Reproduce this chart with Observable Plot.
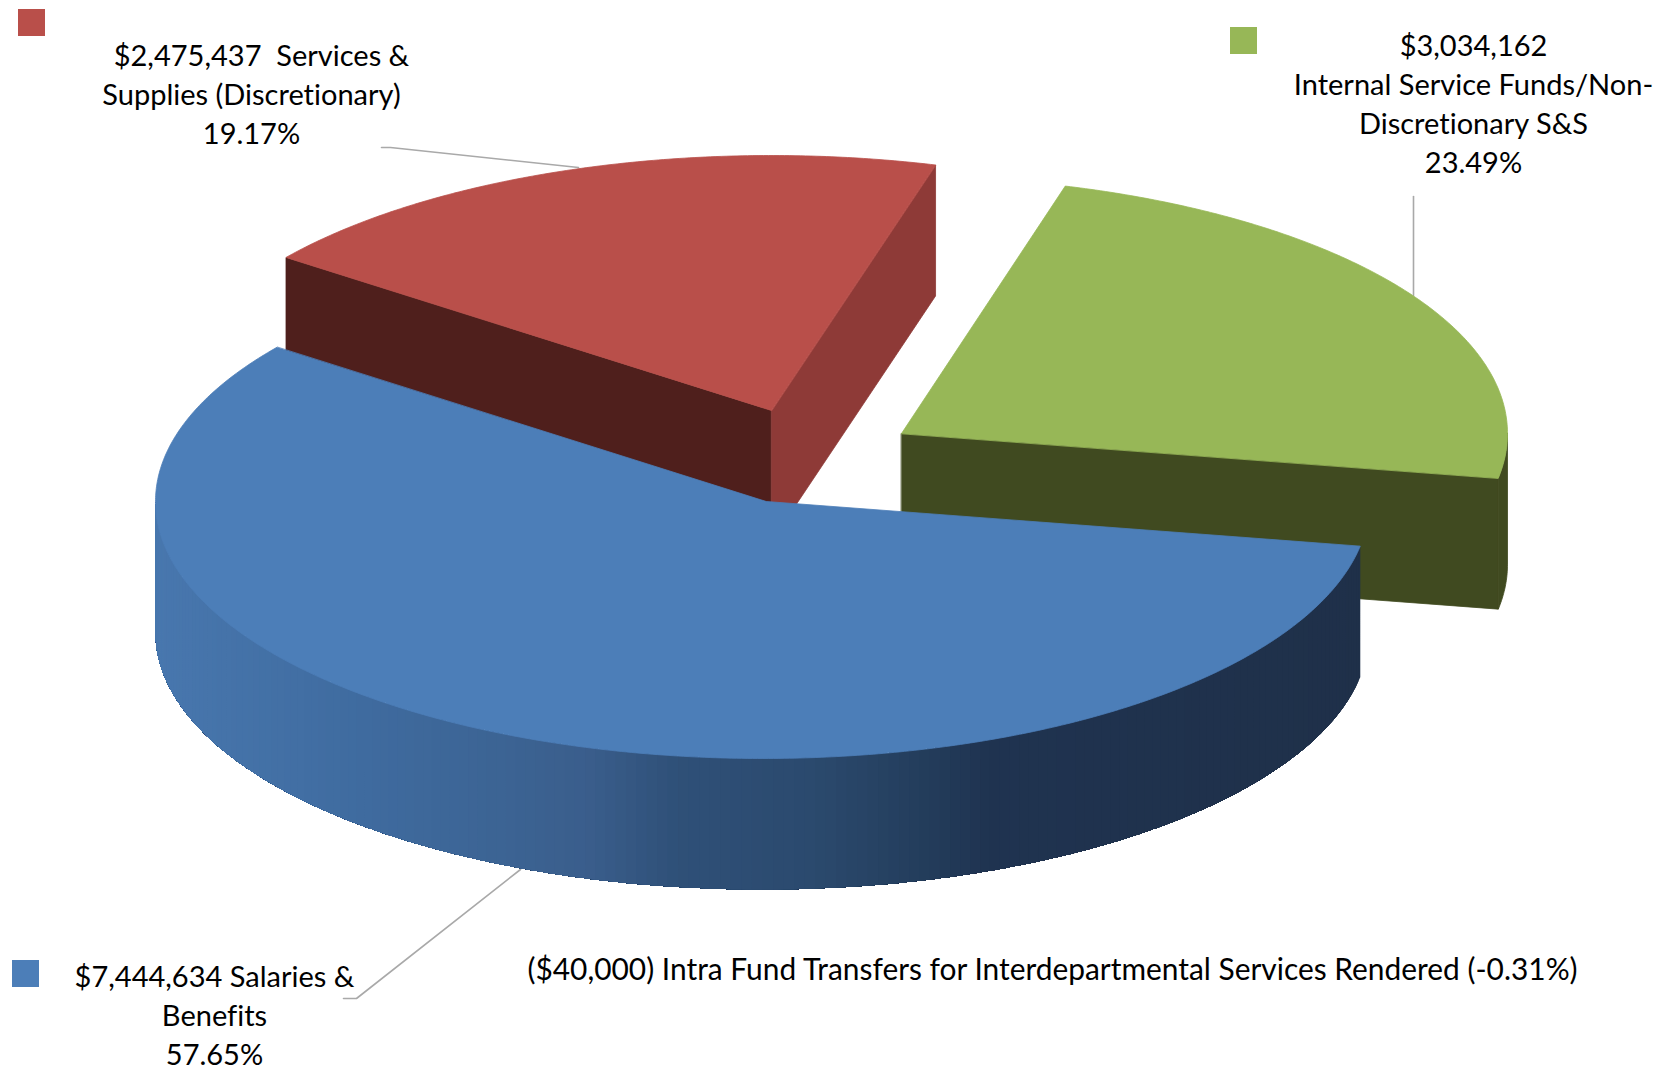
<!DOCTYPE html>
<html>
<head>
<meta charset="utf-8">
<script src="https://cdn.jsdelivr.net/npm/d3@7"></script>
<script src="https://cdn.jsdelivr.net/npm/@observablehq/plot@0.6"></script>
<style>
  html, body { margin: 0; padding: 0; background: #fff; }
  svg { display: block; }
  svg text { font-variant-ligatures: none; }
</style>
</head>
<body>
<div id="chart"></div>
<script>
// Budget amounts
const categories = ["Salaries & Benefits", "Services & Supplies (Discretionary)", "Internal Service Funds/Non-Discretionary S&S"];
const amounts = [7444634, 2475437, 3034162];
const topColors = ["#4c7eb8", "#b94f4a", "#97b757"];

// Label blocks, one string per line; offsets nudge individual lines sideways
const labelLines = [
  {lines: ["$7,444,634 Salaries &", "Benefits", "57.65%"], offsets: [0, 0, 0], x: 214, y: 977, size: 29},
  {lines: ["$2,475,437  Services &", "Supplies (Discretionary)", "19.17%"], offsets: [10, 0, 0], x: 251, y: 56, size: 29},
  {lines: ["$3,034,162", "Internal Service Funds/Non-", "Discretionary S&S", "23.49%"], offsets: [0, 0, 0, 0], x: 1473, y: 46, size: 29},
  {lines: ["($40,000) Intra Fund Transfers for Interdepartmental Services Rendered (-0.31%)"], offsets: [0], x: 1052, y: 970, size: 29.9}
];

// Swatches and leader lines
const swatches = [
  {x1: 12, x2: 39, y1: 960, y2: 987, fill: topColors[0]},
  {x1: 18, x2: 45, y1: 9, y2: 36, fill: topColors[1]},
  {x1: 1230, x2: 1257, y1: 27, y2: 54, fill: topColors[2]}
];
const leaders = [
  [[343, 998], [356, 998], [520, 869]],
  [[381, 147], [390, 147], [578, 167]],
  [[1413, 196], [1413, 295]]
];

// Pie projection: per-slice apex, ellipse centre and radii, extrusion depth, start angle
const apexes = [[766, 501], [771, 410], [901, 433]];
const centres = [[762, 501], [771, 410], [901, 433]];
const radii = [[607, 257], [607, 255], [606, 257]];
const depth = 131;
const startAngle = 10;

// Shaded faces
const redLeftCut = "#4f1f1c";
const redRightCut = "#8e3a37";
const greenCut = "#404a20";
const rimX = [156, 363, 497, 586, 676, 810, 915, 992, 1372];
const rimStops = ["#4877ae", "#3f6b9f", "#3c6494", "#3a5e8c", "#2f5078", "#2b4a6e", "#243e5d", "#1f3350", "#1f3049"];

const total = d3.sum(amounts);
const rad = (a) => (a * Math.PI) / 180;
let running = startAngle;
const slices = amounts.map((v, i) => {
  const a0 = running;
  const a1 = running + (v / total) * 360;
  running = a1;
  return {i, a0, a1, apex: apexes[i], c: centres[i], r: radii[i]};
});
const rimPoint = (s, a, dz = 0) => [s.c[0] + s.r[0] * Math.cos(rad(a)), s.c[1] + s.r[1] * Math.sin(rad(a)) + dz];
const arc = (s, a0, a1, dz = 0) => {
  const n = Math.max(2, Math.ceil(Math.abs(a1 - a0) * 2));
  return d3.range(n + 1).map((k) => rimPoint(s, a0 + ((a1 - a0) * k) / n, dz));
};

const polys = [];
const addPoly = (pts, fill, stroked = true) => {
  const id = polys.length ? polys[polys.length - 1].id + 1 : 0;
  pts.forEach(([x, y]) => polys.push({id, x, y, fill, stroked}));
};

// Back to front: green slice, red slice, then blue
const [blue, red, green] = slices;
const cutFace = (s, a, fill) => {
  const p = rimPoint(s, a), q = rimPoint(s, a, depth);
  addPoly([s.apex, p, q, [s.apex[0], s.apex[1] + depth]], fill);
};

cutFace(green, green.a1, greenCut);
addPoly([...arc(green, 360, green.a1), ...arc(green, green.a1, 360, depth)], greenCut);
addPoly([green.apex, ...arc(green, green.a0, green.a1)], topColors[2]);

cutFace(red, red.a0, redLeftCut);
cutFace(red, red.a1, redRightCut);
addPoly([red.apex, ...arc(red, red.a0, red.a1)], topColors[1]);

// The blue rim is painted right to left, each band running on to the far edge so
// the next one overlaps it: lighter on the left, darker on the right
const rimColor = d3.scaleLinear().domain(rimX).range(rimStops).interpolate(d3.interpolateRgb).clamp(true);
for (let a = blue.a0; a < 180; a += 1) {
  addPoly([...arc(blue, a, 180), ...arc(blue, 180, a, depth)], rimColor(rimPoint(blue, a + 0.5)[0]), false);
}
addPoly([blue.apex, ...arc(blue, blue.a0, blue.a1)], topColors[0]);

const textRows = labelLines.flatMap((b) => b.lines.map((t, k) => ({t, x: b.x + b.offsets[k], y: b.y + k * 39, size: b.size})));

const chart = Plot.plot({
  width: 1675,
  height: 1068,
  margin: 0,
  x: {domain: [0, 1675], axis: null},
  y: {domain: [1068, 0], axis: null},
  marks: [
    leaders.map((pts) => Plot.line(pts, {x: (d) => d[0], y: (d) => d[1], stroke: "#a9a9a9", strokeWidth: 1.6, curve: "linear"})),
    d3.groups(polys, (d) => d.id).map(([id, pts]) =>
      Plot.line(pts, {x: "x", y: "y", fill: pts[0].fill, stroke: pts[0].stroked ? pts[0].fill : "none", strokeWidth: 0.8, curve: "linear-closed"})
    ),
    Plot.rect(swatches, {x1: "x1", x2: "x2", y1: "y1", y2: "y2", fill: "fill"}),
    Plot.text(textRows, {x: "x", y: "y", text: "t", fontFamily: "Lato", fontSize: "size", fill: "#000", textAnchor: "middle", lineAnchor: "middle"})
  ]
});
document.getElementById("chart").append(chart);
</script>
</body>
</html>
